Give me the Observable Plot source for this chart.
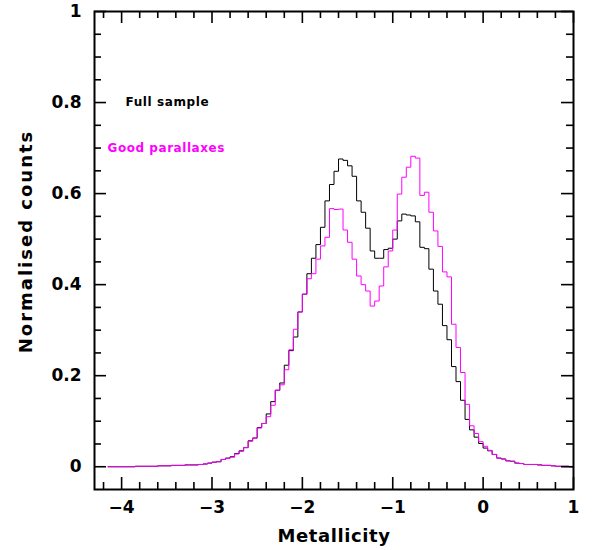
<!DOCTYPE html>
<html><head><meta charset="utf-8">
<script src="https://cdn.jsdelivr.net/npm/d3@7"></script>
<script src="https://cdn.jsdelivr.net/npm/@observablehq/plot@0.6"></script>
<style>body{margin:0;background:#fff}</style>
</head><body><div id="chart"></div>
<script>
// Histogram bin edges (metallicity), 103 bins + final right edge
const binEdges = [-4.15,-4.1,-4.05,-4,-3.95,-3.9,-3.85,-3.8,-3.75,-3.7,-3.65,-3.6,-3.55,-3.5,-3.45,-3.4,-3.35,-3.3,-3.25,-3.2,-3.15,-3.1,-3.05,-3,-2.95,-2.9,-2.85,-2.8,-2.75,-2.7,-2.65,-2.6,-2.55,-2.5,-2.45,-2.4,-2.35,-2.3,-2.25,-2.2,-2.15,-2.1,-2.05,-2,-1.95,-1.9,-1.85,-1.8,-1.75,-1.7,-1.65,-1.6,-1.55,-1.5,-1.45,-1.4,-1.35,-1.3,-1.25,-1.2,-1.15,-1.1,-1.05,-1,-0.95,-0.9,-0.85,-0.8,-0.75,-0.7,-0.65,-0.6,-0.55,-0.5,-0.45,-0.4,-0.35,-0.3,-0.25,-0.2,-0.15,-0.1,-0.05,0,0.05,0.1,0.15,0.2,0.25,0.3,0.35,0.4,0.45,0.5,0.55,0.6,0.65,0.7,0.75,0.8,0.85,0.9,0.95,1];

const fullSample = [0,0,0,0,0,0,0.001,0.001,0.001,0.001,
 0.001,0.002,0.002,0.002,0.003,0.003,0.003,0.004,0.004,0.004,
 0.005,0.006,0.008,0.010,0.011,0.016,0.019,0.022,0.029,0.035,
 0.042,0.057,0.063,0.086,0.095,0.116,0.143,0.168,0.184,0.223,
 0.255,0.285,0.340,0.379,0.424,0.458,0.488,0.526,0.584,0.620,
 0.649,0.676,0.673,0.661,0.638,0.584,0.559,0.524,0.474,0.458,
 0.458,0.477,0.480,0.500,0.540,0.555,0.553,0.551,0.538,0.482,
 0.479,0.434,0.386,0.357,0.310,0.279,0.220,0.187,0.146,0.104,
 0.081,0.065,0.051,0.041,0.035,0.027,0.019,0.017,0.013,0.012,
 0.008,0.007,0.005,0.005,0.005,0.004,0.003,0.003,0.002,0.001,
 0.001,0.001,0.000];

const goodParallaxes = [0,0,0,0,0,0,0.001,0.001,0.001,0.001,
 0.001,0.002,0.002,0.002,0.003,0.003,0.003,0.004,0.004,0.004,
 0.005,0.006,0.008,0.010,0.011,0.016,0.018,0.021,0.028,0.034,
 0.042,0.056,0.063,0.085,0.095,0.110,0.135,0.168,0.180,0.213,
 0.257,0.302,0.340,0.379,0.413,0.424,0.456,0.485,0.504,0.567,
 0.565,0.566,0.520,0.493,0.456,0.419,0.400,0.386,0.353,0.364,
 0.397,0.439,0.474,0.520,0.599,0.636,0.658,0.682,0.678,0.596,
 0.603,0.559,0.518,0.484,0.428,0.417,0.313,0.262,0.207,0.137,
 0.090,0.073,0.055,0.045,0.036,0.027,0.019,0.017,0.013,0.012,
 0.008,0.007,0.005,0.005,0.005,0.004,0.003,0.003,0.002,0.001,
 0.001,0.001,0.000];

const xMajorTicks = [-4,-3,-2,-1,0,1];
const xMinorTicks = [-4.2,-3.8,-3.6,-3.4,-3.2,-2.8,-2.6,-2.4,-2.2,-1.8,-1.6,-1.4,-1.2,-0.8,-0.6,-0.4,-0.2,0.2,0.4,0.6,0.8];
const yMajorTicks = [0,0.2,0.4,0.6,0.8,1];
const yMinorTicks = [0.05,0.1,0.15,0.25,0.3,0.35,0.45,0.5,0.55,0.65,0.7,0.75,0.85,0.9,0.95];

const legendLabels = ["Full sample","Good parallaxes"];
const xLabel = "Metallicity";
const yLabel = "Normalised counts";

// step outline points: each bin's left edge with its value, plus the final right edge
function stepPoints(values) {
  const pts = values.map((v, i) => ({x: binEdges[i], y: v}));
  pts.push({x: binEdges[values.length], y: values[values.length - 1]});
  return pts;
}

const W = 596, H = 550, mL = 94, mR = 23, mT = 11, mB = 61;
const fw = W - mL - mR, fh = H - mT - mB;
const MAJ = 12, MIN = 7;
const fmt = d3.format("~g");
const font = "DejaVu Sans";

const chart = Plot.plot({
  width: W, height: H,
  marginLeft: mL, marginRight: mR, marginTop: mT, marginBottom: mB,
  style: {fontFamily: font, fontSize: "16px", fontWeight: "bold", background: "#fff", color: "#000"},
  x: {domain: [-4.3, 1], axis: null},
  y: {domain: [-0.05, 1], axis: null},
  marks: [
    Plot.line(stepPoints(fullSample), {x: "x", y: "y", curve: "step-after", stroke: "#000", strokeWidth: 1}),
    Plot.line(stepPoints(goodParallaxes), {x: "x", y: "y", curve: "step-after", stroke: "#ff00ff", strokeWidth: 1}),
    // inward ticks on all four sides
    Plot.tickX(xMajorTicks, {x: d => d, insetTop: fh - MAJ, stroke: "#000", strokeWidth: 1.6}),
    Plot.tickX(xMajorTicks, {x: d => d, insetBottom: fh - MAJ, stroke: "#000", strokeWidth: 1.6}),
    Plot.tickX(xMinorTicks, {x: d => d, insetTop: fh - MIN, stroke: "#000", strokeWidth: 1.6}),
    Plot.tickX(xMinorTicks, {x: d => d, insetBottom: fh - MIN, stroke: "#000", strokeWidth: 1.6}),
    Plot.tickY(yMajorTicks, {y: d => d, insetRight: fw - MAJ, stroke: "#000", strokeWidth: 1.6}),
    Plot.tickY(yMajorTicks, {y: d => d, insetLeft: fw - MAJ, stroke: "#000", strokeWidth: 1.6}),
    Plot.tickY(yMinorTicks, {y: d => d, insetRight: fw - MIN, stroke: "#000", strokeWidth: 1.6}),
    Plot.tickY(yMinorTicks, {y: d => d, insetLeft: fw - MIN, stroke: "#000", strokeWidth: 1.6}),
    Plot.frame({stroke: "#000", strokeWidth: 2}),
    Plot.axisX({ticks: xMajorTicks, tickSize: 0, tickPadding: 11, tickFormat: fmt, label: null, fontSize: 17}),
    Plot.axisY({ticks: yMajorTicks, tickSize: 0, tickPadding: 13, tickFormat: fmt, label: null, fontSize: 17}),
    Plot.text([xLabel], {text: d => d, frameAnchor: "bottom", dy: 52, fontSize: 18, fontWeight: "bold", fill: "#000"}),
    Plot.text([yLabel], {text: d => d, frameAnchor: "left", textAnchor: "middle", dx: -68, dy: -9, rotate: -90, fontSize: 18, fontWeight: "bold", fill: "#000"}),
    Plot.text([legendLabels[0]], {text: d => d, frameAnchor: "top-left", dx: 31, dy: 86, textAnchor: "start", fontSize: 12, fontWeight: "bold", fill: "#000"}),
    Plot.text([legendLabels[1]], {text: d => d, frameAnchor: "top-left", dx: 13, dy: 132, textAnchor: "start", fontSize: 12, fontWeight: "bold", fill: "#ff00ff"})
  ]
});
// letter spacing to mimic the wide plotting font
const spacing = new Map([[xLabel, "0.6px"], [yLabel, "2px"], [legendLabels[0], "0.6px"], [legendLabels[1], "0.55px"]]);
d3.select(chart).selectAll("text").each(function() {
  const t = this.textContent;
  if (spacing.has(t)) this.style.letterSpacing = spacing.get(t);
});
document.getElementById("chart").appendChild(chart);
</script>
</body></html>
